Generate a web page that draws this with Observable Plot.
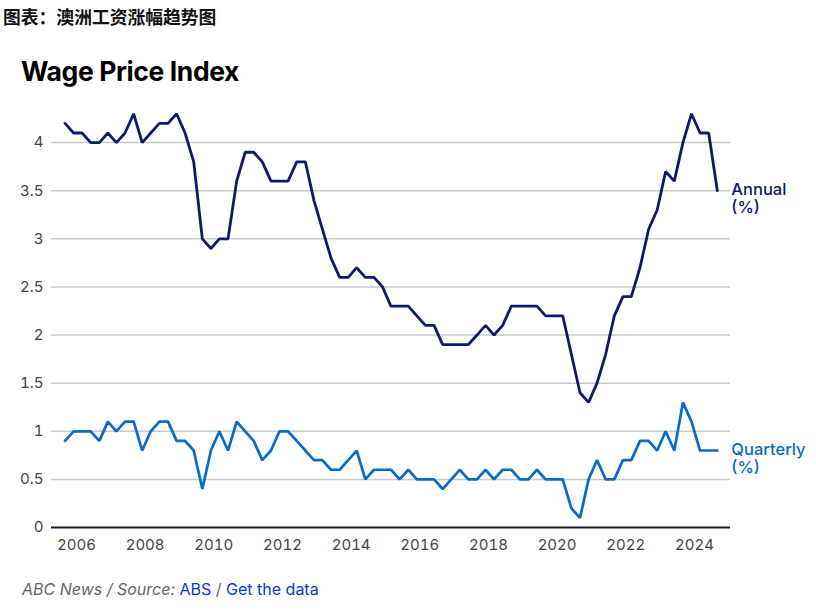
<!DOCTYPE html>
<html><head><meta charset="utf-8">
<script src="https://cdn.jsdelivr.net/npm/d3@7"></script>
<script src="https://cdn.jsdelivr.net/npm/@observablehq/plot@0.6"></script>
<style>
body{margin:0;background:#fff;width:816px;height:612px;position:relative;overflow:hidden;font-family:Inter,"Noto Sans",sans-serif}
#t{position:absolute;left:3px;top:3px;font:700 17.8px "Noto Sans CJK SC";color:#111;white-space:nowrap}
#h{position:absolute;left:21px;top:55px;font:700 26.5px Inter;letter-spacing:-0.4px;color:#000;white-space:nowrap}
#c{position:absolute;left:0;top:90px}
#cap{position:absolute;left:22px;top:579px;font:16px Inter;color:#666;white-space:nowrap}
#cap i{font-style:italic}
#cap .b{color:#0a3cc8}
</style></head><body>
<div id="t">图表：澳洲工资涨幅趋势图</div>
<div id="h">Wage Price Index</div>
<div id="c"></div>
<div id="cap"><i>ABC News / Source:</i> <span class="b">ABS</span> / <span class="b">Get the data</span></div>
<script>
// Quarterly observations, starting September 2005, ending September 2024
const firstQuarter = "2005-09";
const annual = [
  4.2, 4.1, 4.1, 4.0, 4.0, 4.1, 4.0, 4.1, 4.3, 4.0,
  4.1, 4.2, 4.2, 4.3, 4.1, 3.8, 3.0, 2.9, 3.0, 3.0,
  3.6, 3.9, 3.9, 3.8, 3.6, 3.6, 3.6, 3.8, 3.8, 3.4,
  3.1, 2.8, 2.6, 2.6, 2.7, 2.6, 2.6, 2.5, 2.3, 2.3,
  2.3, 2.2, 2.1, 2.1, 1.9, 1.9, 1.9, 1.9, 2.0, 2.1,
  2.0, 2.1, 2.3, 2.3, 2.3, 2.3, 2.2, 2.2, 2.2, 1.8,
  1.4, 1.3, 1.5, 1.8, 2.2, 2.4, 2.4, 2.7, 3.1, 3.3,
  3.7, 3.6, 4.0, 4.3, 4.1, 4.1, 3.5
];
const quarterly = [
  0.9, 1.0, 1.0, 1.0, 0.9, 1.1, 1.0, 1.1, 1.1, 0.8,
  1.0, 1.1, 1.1, 0.9, 0.9, 0.8, 0.4, 0.8, 1.0, 0.8,
  1.1, 1.0, 0.9, 0.7, 0.8, 1.0, 1.0, 0.9, 0.8, 0.7,
  0.7, 0.6, 0.6, 0.7, 0.8, 0.5, 0.6, 0.6, 0.6, 0.5,
  0.6, 0.5, 0.5, 0.5, 0.4, 0.5, 0.6, 0.5, 0.5, 0.6,
  0.5, 0.6, 0.6, 0.5, 0.5, 0.6, 0.5, 0.5, 0.5, 0.2,
  0.1, 0.5, 0.7, 0.5, 0.5, 0.7, 0.7, 0.9, 0.9, 0.8,
  1.0, 0.8, 1.3, 1.1, 0.8, 0.8, 0.8
];
const seriesNames = ["Annual\n(%)", "Quarterly\n(%)"];
const seriesColors = ["#0c1a6c", "#0a6bc6"];
const yTicks = [0, 0.5, 1, 1.5, 2, 2.5, 3, 3.5, 4];
const tickYears = [2006, 2008, 2010, 2012, 2014, 2016, 2018, 2020, 2022, 2024];

const start = d3.utcParse("%Y-%m")(firstQuarter);
const dates = annual.map((_, i) => d3.utcMonth.offset(start, 3 * i));
const rowsA = annual.map((v, i) => ({date: dates[i], value: v}));
const rowsQ = quarterly.map((v, i) => ({date: dates[i], value: v}));
const last = annual.length - 1;
const labels = [
  {date: dates[last], value: annual[last], name: seriesNames[0], color: seriesColors[0]},
  {date: dates[last], value: quarterly[last], name: seriesNames[1], color: seriesColors[1]}
];

const chart = Plot.plot({
  width: 816, height: 475,
  marginLeft: 51, marginRight: 86, marginTop: 4, marginBottom: 38,
  style: {fontFamily: "Inter, 'Noto Sans', sans-serif", fontSize: "15px", color: "#444", background: "transparent"},
  x: {type: "utc", domain: [new Date(Date.UTC(2005, 3, 10)), new Date(Date.UTC(2025, 0, 19))],
      ticks: tickYears.map(y => new Date(Date.UTC(y, 0, 1))), tickFormat: "%Y",
      tickSize: 0, tickPadding: 12, label: null},
  y: {domain: [0, 4.5], ticks: yTicks, tickFormat: d => String(d), tickSize: 0, tickPadding: 8, label: null},
  marks: [
    Plot.gridY(yTicks.filter(d => d > 0), {stroke: "#c9c9c9", strokeOpacity: 1, strokeWidth: 1.5}),
    Plot.ruleY([0], {stroke: "#1a1a1a", strokeWidth: 2}),
    Plot.lineY(rowsQ, {x: "date", y: "value", stroke: seriesColors[1], strokeWidth: 2.7, strokeLinejoin: "miter"}),
    Plot.lineY(rowsA, {x: "date", y: "value", stroke: seriesColors[0], strokeWidth: 2.8, strokeLinejoin: "miter"}),
    Plot.text(labels, {x: "date", y: "value", text: "name", fill: "color", textAnchor: "start",
      lineAnchor: "top", dx: 14, dy: -9, fontSize: 16.5, fontWeight: 500, lineHeight: 1.12})
  ]
});
document.getElementById("c").appendChild(chart);
</script>
</body></html>
